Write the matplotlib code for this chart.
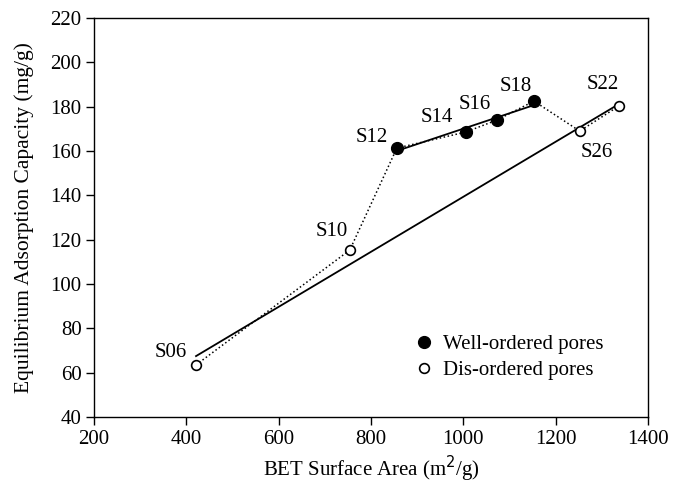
import numpy as np
from matplotlib import pyplot as plt

# samples in order along the dotted path
names = ["S06", "S10", "S12", "S14", "S16", "S18", "S26", "S22"]
area = [421, 754, 856, 1006, 1073, 1153, 1252, 1337]
capacity = [63.5, 115.3, 161.3, 168.6, 174.0, 182.5, 169.0, 180.3]
ordered = [False, False, True, True, True, True, False, False]

# label positions (data coords)
label_x = [366, 716, 802, 943, 1025, 1114, 1290, 1303]
label_y = [69, 123.5, 166, 175, 181, 189, 159.5, 190]

plt.rcParams["font.family"] = "Liberation Serif"
plt.rcParams["font.size"] = 15

fig = plt.figure(figsize=(6.73, 4.83), dpi=100)
ax = fig.add_axes([94 / 673, 1 - 417 / 483, 554 / 673, 399 / 483])

area = np.array(area, dtype=float)
capacity = np.array(capacity)
ordered = np.array(ordered)

ax.plot(area, capacity, ls=":", color="black", lw=1.1, zorder=1)

# linear fits for each group
for mask in (ordered, ~ordered):
    xs, ys = area[mask], capacity[mask]
    k, b = np.polyfit(xs, ys, 1)
    xx = np.array([xs.min(), xs.max()])
    ax.plot(xx, k * xx + b, color="black", lw=1.3, zorder=2)

ax.plot(area[ordered], capacity[ordered], "o", color="black", ms=8.5,
        label="Well-ordered pores", zorder=3)
ax.plot(area[~ordered], capacity[~ordered], "o", mfc="white", mec="black",
        mew=1.2, ms=7, label="Dis-ordered pores", zorder=3)

for n, lx, ly in zip(names, label_x, label_y):
    ax.text(lx, ly, n, ha="center", va="center", fontsize=15)

ax.set_xlim(200, 1400)
ax.set_ylim(40, 220)
ax.set_xticks(np.arange(200, 1401, 200))
ax.set_yticks(np.arange(40, 221, 20))
ax.tick_params(direction="out", length=6, width=1, labelsize=15, pad=3)
ax.set_xlabel("BET Surface Area (m$^2$/g)", fontsize=15, labelpad=4)
ax.set_ylabel("Equilibrium Adsorption Capacity (mg/g)", fontsize=15.5, labelpad=12)
for s in ax.spines.values():
    s.set_linewidth(1)

ax.legend(loc="lower left", bbox_to_anchor=(0.54, 0.045), frameon=False,
          handletextpad=0.3, handlelength=1.2, fontsize=15, labelspacing=0.3)

plt.savefig("out.png", dpi=100)
